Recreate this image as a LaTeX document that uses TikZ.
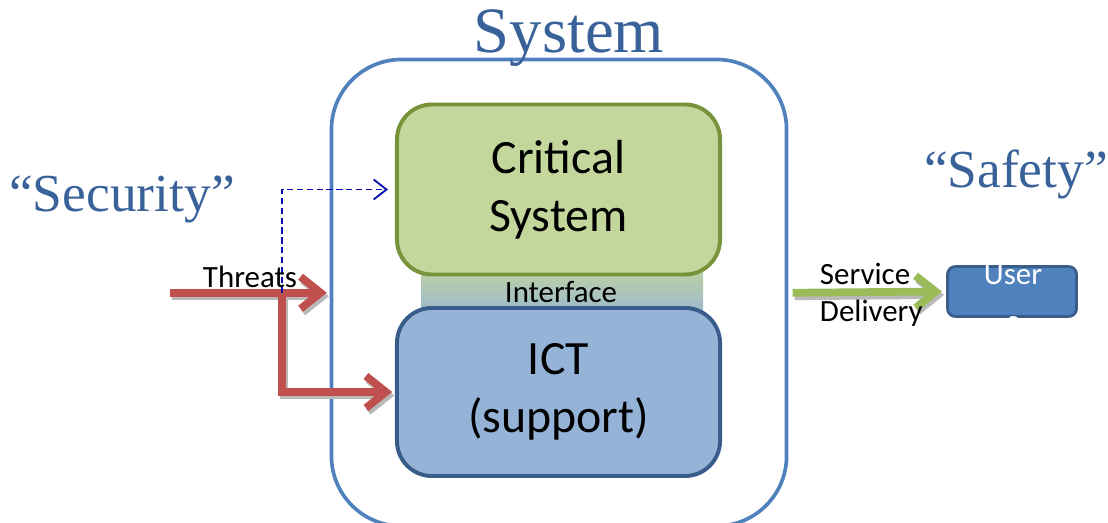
\documentclass[tikz,border=0pt]{standalone}
\usepackage{fontspec}
\setmainfont{Carlito}
\newfontfamily\titlefont{Liberation Serif}
\usetikzlibrary{arrows.meta}
\definecolor{sysblue}{RGB}{79,129,189}
\definecolor{darkblue}{RGB}{56,93,138}
\definecolor{titleblue}{RGB}{56,98,153}
\definecolor{critfill}{RGB}{195,214,155}
\definecolor{critline}{RGB}{119,147,60}
\definecolor{ictfill}{RGB}{149,179,215}
\definecolor{threatred}{RGB}{192,80,77}
\definecolor{servgreen}{RGB}{155,187,89}
\definecolor{linkblue}{RGB}{10,10,180}
\begin{document}
\begin{tikzpicture}[
        x=0.025cm, y=-0.025cm,
        box/.style={rounded corners=0.875cm, line width=2.8pt,
            minimum width=8.075cm, minimum height=4.25cm,
            font=\fontsize{34}{41}\selectfont, align=center},
        label/.style={font=\fontsize{22}{33}\selectfont},
        heading/.style={font=\titlefont\fontsize{38}{44}\selectfont,
            text=titleblue, anchor=base},
        fat/.style={line width=5.5pt, -{Straight Barb[length=0.5cm,width=0.8cm]}},
        fatshadow/.style={fat, draw=gray!55, transform canvas={shift={(1.5pt,-2.5pt)}}}
    ]
    \useasboundingbox (0,0) rectangle (1108,523);
    % the system frame
    \node[draw=sysblue, line width=2.6pt, rounded corners=1.75cm,
        minimum width=11.375cm, minimum height=11.66cm] (system) at (559,292.75) {};
    \node[heading, font=\titlefont\fontsize{46}{50}\selectfont] (systitle) at (569,53) {System};
    \node[heading] (security) at (122,212) {“Security”};
    \node[heading] (safety) at (1016,188) {“Safety”};
    % interface band behind the two boxes
    \shade[top color=critfill, bottom color=ictfill] (421,262) rectangle (703,322);
    \node[label] (iface) at (561,292) {Interface};
    \node[box, draw=critline, fill=critfill] (crit) at (558.5,189.5) {Critical\\System};
    \node[box, draw=darkblue, fill=ictfill, minimum height=4.2cm] (ict) at (558.5,392)
        {ICT\\(support)};
    \node[draw=darkblue, fill=sysblue, line width=2pt, rounded corners=0.2cm,
        minimum width=3.225cm, minimum height=1.25cm] (users) at (1012,291.5) {};
    \node[label, text=white, align=center] (userstext) at (1013,298) {User\\s};
    % threats
    \coordinate (tstart) at (170,292.75);
    \coordinate (split) at (282,292.75);
    \draw[fatshadow] (tstart) -- ([xshift=-2pt]system.west);
    \draw[fatshadow] (split) |- ([xshift=-2pt]ict.west);
    \draw[fat, draw=threatred] (tstart) -- ([xshift=-2pt]system.west);
    \draw[fat, draw=threatred] (split) |- ([xshift=-2pt]ict.west);
    \draw[dash pattern=on 4.5pt off 2.5pt, draw=linkblue, line width=1.3pt,
        -{Straight Barb[length=0.32cm,width=0.5cm]}, shorten >=5pt]
        (split) |- (crit.west);
    \node[label, anchor=base west] (threats) at (198,288) {Threats};
    % service delivery
    \draw[fatshadow] ([xshift=3pt]system.east) -- ([xshift=-3pt]users.west);
    \draw[fat, draw=servgreen] ([xshift=3pt]system.east) -- ([xshift=-3pt]users.west);
    \node[label, anchor=base west] (service) at (815,285) {Service};
    \node[label, anchor=base west] (delivery) at (815,322) {Delivery};
\end{tikzpicture}
\end{document}
